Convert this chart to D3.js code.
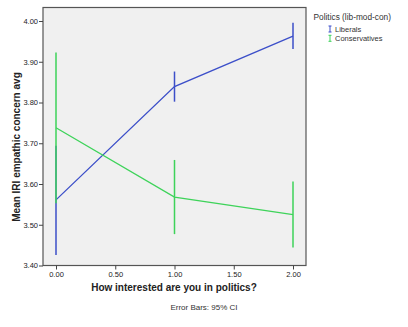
<!DOCTYPE html>
<html><head><meta charset="utf-8">
<script src="https://cdn.jsdelivr.net/npm/d3@7"></script>
<style>body{margin:0;background:#fff;}svg{display:block;font-family:"Liberation Sans",Arial,sans-serif;}</style>
</head><body><svg id="c" width="408" height="327"></svg>
<script>
const xValues = [0, 1, 2];
const liberalsMean = [3.561, 3.839, 3.963];
const liberalsLow  = [3.426, 3.802, 3.931];
const liberalsHigh = [3.694, 3.876, 3.996];
const consMean = [3.738, 3.568, 3.525];
const consLow  = [3.553, 3.477, 3.444];
const consHigh = [3.923, 3.659, 3.606];
const xTicks = [0, 0.5, 1, 1.5, 2];
const yTicks = [3.4, 3.5, 3.6, 3.7, 3.8, 3.9, 4.0];
const seriesNames = ["Liberals", "Conservatives"];
const colors = ["#3c4fc9", "#3ed35a"];

const svg = d3.select("#c");
const L = 43, T = 7.5, R = 306, B = 265.5;
const x = d3.scaleLinear().domain([0, 2]).range([56, 293]);
const y = d3.scaleLinear().domain([3.4, 4.0]).range([B, 21]);

svg.append("rect").attr("x", L).attr("y", T).attr("width", R - L).attr("height", B - T)
  .attr("fill", "#f0f0f0").attr("stroke", "#555").attr("stroke-width", 1.2);

// axes
const yAxis = svg.append("g").attr("transform", `translate(${L},0)`)
  .call(d3.axisLeft(y).tickValues(yTicks).tickFormat(d3.format(".2f")).tickSize(4).tickSizeOuter(0));
const xAxis = svg.append("g").attr("transform", `translate(0,${B})`)
  .call(d3.axisBottom(x).tickValues(xTicks).tickFormat(d3.format(".2f")).tickSize(4).tickSizeOuter(0));
[yAxis, xAxis].forEach(a => {
  a.select(".domain").remove();
  a.selectAll(".tick line").attr("stroke", "#444");
  a.selectAll(".tick text").attr("fill", "#222").style("font-size", "7.5px");
});
yAxis.selectAll(".tick text").attr("x", -5);
xAxis.selectAll(".tick text").attr("y", 6);

const series = [
  {mean: liberalsMean, low: liberalsLow, high: liberalsHigh},
  {mean: consMean, low: consLow, high: consHigh}
];
const line = d3.line().x((d, i) => x(xValues[i])).y(d => y(d));
series.forEach((s, k) => {
  const g = svg.append("g");
  g.append("path").attr("d", line(s.mean)).attr("fill", "none")
    .attr("stroke", colors[k]).attr("stroke-width", 1.3);
  g.selectAll("line.err").data(xValues).enter().append("line")
    .attr("x1", d => x(d)).attr("x2", d => x(d))
    .attr("y1", (d, i) => y(s.low[i])).attr("y2", (d, i) => y(s.high[i]))
    .attr("stroke", colors[k]).attr("stroke-width", 1.5);
});

// labels
svg.append("text").attr("transform", "translate(20,147) rotate(-90)")
  .attr("text-anchor", "middle").style("font-size", "10px").style("font-weight", "bold")
  .attr("fill", "#222").text("Mean IRI empathic concern avg");
svg.append("text").attr("x", 174).attr("y", 291).attr("text-anchor", "middle")
  .style("font-size", "10px").style("font-weight", "bold").attr("fill", "#222")
  .text("How interested are you in politics?");
svg.append("text").attr("x", 204).attr("y", 310).attr("text-anchor", "middle")
  .style("font-size", "8px").attr("fill", "#333").text("Error Bars: 95% CI");

// legend
svg.append("text").attr("x", 313.5).attr("y", 19.5).style("font-size", "8.3px")
  .attr("fill", "#333").text("Politics (lib-mod-con)");
seriesNames.forEach((n, k) => {
  const cy = 29 + k * 9.3;
  const gx = 330;
  const lg = svg.append("g").attr("stroke", colors[k]).attr("stroke-width", 1);
  lg.append("line").attr("x1", gx).attr("x2", gx).attr("y1", cy - 3).attr("y2", cy + 3);
  lg.append("line").attr("x1", gx - 1.5).attr("x2", gx + 1.5).attr("y1", cy - 3).attr("y2", cy - 3);
  lg.append("line").attr("x1", gx - 1.5).attr("x2", gx + 1.5).attr("y1", cy + 3).attr("y2", cy + 3);
  svg.append("text").attr("x", 335).attr("y", cy + 2.8).style("font-size", "7.5px")
    .attr("fill", "#333").text(n);
});
</script></body></html>
